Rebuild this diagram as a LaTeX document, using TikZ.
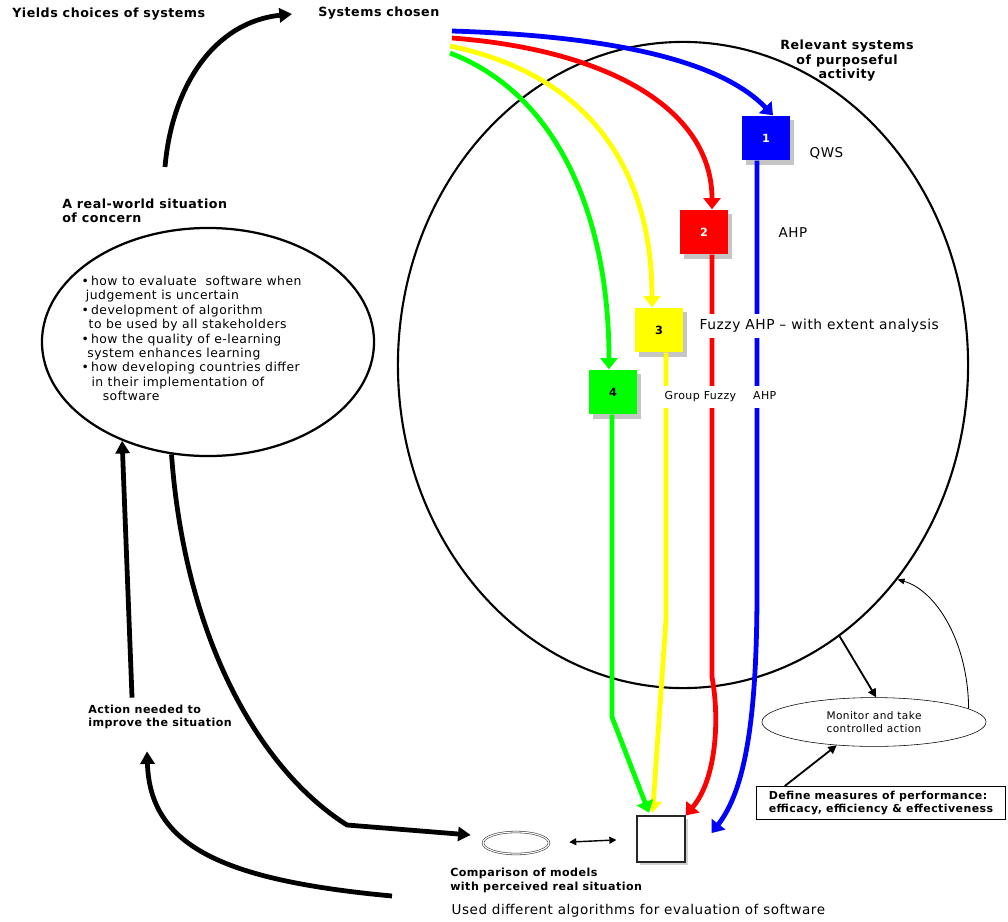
\documentclass[tikz,border=0pt]{standalone}
\usepackage{fontspec}
\setmainfont{DejaVu Sans}[LetterSpace=4]
\usetikzlibrary{arrows.meta,positioning,calc,shapes.geometric,shadows}
\definecolor{qblue}{HTML}{0000FF}
\definecolor{qred}{HTML}{FF0000}
\definecolor{qyellow}{HTML}{FFFF00}
\definecolor{qgreen}{HTML}{00FF00}
\tikzset{lbl/.style={font=\bfseries\fontsize{9}{10.3}\selectfont,align=left,inner sep=0pt}, txt/.style={font=\fontsize{9.6}{11}\selectfont,inner sep=1pt}, sysbox/.style={minimum width=1.2cm,minimum height=1.12cm,inner sep=0pt,font=\bfseries\fontsize{8}{9}\selectfont,drop shadow={shadow xshift=3pt,shadow yshift=-3pt,fill=black!45}}, colflow/.style={line width=3.4pt,-{Triangle[length=8pt,width=12pt]}}, bigflow/.style={line width=3.4pt,-{Triangle[length=9pt,width=10pt]}}, midflow/.style={line width=1.3pt,-{Triangle[length=6pt,width=6pt]}}, thinflow/.style={line width=0.6pt,-{Triangle[length=5pt,width=4pt]}}, gapfill/.style={fill=white,inner ysep=4pt}}

\begin{document}
\begin{tikzpicture}[x=0.025cm,y=-0.025cm]
\useasboundingbox (0,0) rectangle (1008,922);
\node[draw,line width=1.6pt,ellipse,minimum width=8.3cm,minimum height=5.7cm] (concern) at (208,342) {};
\node[draw,line width=1.5pt,ellipse,minimum width=14.25cm,minimum height=16.15cm] (rel) at (683,365) {};
\node[lbl,anchor=west] (yields) at (12,14) {Yields choices of systems};
\node[lbl,anchor=west] (chosen) at (318,13) {Systems chosen};
\node[lbl,anchor=west] (situation) at (62,211) {A real-world situation\\of concern};
\node[lbl,align=center] (relevant) at (847,61) {Relevant systems\\of purposeful\\activity};
\node[txt,anchor=north west,align=left,font=\fontsize{8.8}{10.3}\selectfont] (issues) at (80,274) {\textbullet\,how to evaluate\ \ software when\\\hspace*{3pt}judgement is uncertain\\\textbullet\,development of algorithm\\\hspace*{5pt}to be used by all stakeholders\\\textbullet\,how the quality of e-learning\\\hspace*{4pt}system enhances learning\\\textbullet\,how developing countries differ\\\hspace*{7pt}in their implementation of\\\hspace*{15pt}software};
\node[lbl,anchor=west,font=\bfseries\fontsize{7.9}{9.5}\selectfont] (action) at (88,717) {Action needed to\\improve the situation};
\node[sysbox,fill=qblue,text=white] (b1) at (766,138) {1};
\node[sysbox,fill=qred,text=white] (b2) at (704,232) {2};
\node[sysbox,fill=qyellow] (b3) at (659,330) {3};
\node[sysbox,fill=qgreen] (b4) at (613,392) {4};
\node[draw=black!85,line width=0.9pt,fill=white,minimum width=1.2cm,minimum height=1.15cm,drop shadow={shadow xshift=2pt,shadow yshift=-2pt,fill=black!35}] (doc) at (661,839) {};
\node[draw=black!80,double=white,double distance=0.8pt,ellipse,minimum width=1.65cm,minimum height=0.55cm] (comp) at (516,843) {};
\coordinate (sb) at (452,31);
\coordinate (sr) at (452,38);
\coordinate (sy) at (450,46);
\coordinate (sg) at (450,53);
\draw[colflow,draw=qblue] (sb) .. controls (610,36) and (720,60) .. ($(b1.north)+(7,0)$);
\draw[colflow,draw=qred] (sr) .. controls (610,50) and (712,110) .. ($(b2.north)+(8,0)$);
\draw[colflow,draw=qyellow] (sy) .. controls (590,75) and (652,170) .. ($(b3.north)+(-7,0)$);
\draw[colflow,draw=qgreen] (sg) .. controls (560,95) and (609,220) .. ($(b4.north)+(-4,0)$);
\draw[colflow,draw=qblue] ($(b1.south)+(-9,0)$) -- (757,590) .. controls (757,720) and (745,790) .. ($(doc.east)+(26,-6)$);
\draw[colflow,draw=qred] ($(b2.south)+(8,0)$) -- (712,677) .. controls (720,720) and (716,780) .. (doc.north east);
\draw[colflow,draw=qyellow,shorten >=2pt] ($(b3.south)+(7,0)$) -- (666,620) -- (doc.110);
\draw[colflow,draw=qgreen,shorten >=2pt] ($(b4.south)+(-1,0)$) -- (612,717) -- (doc.115);
\node[txt,anchor=west] (qws) at (808,153) {QWS};
\node[txt,anchor=west] (ahp) at (777,233) {AHP};
\node[txt,anchor=west,gapfill,font=\fontsize{9.8}{11}\selectfont] (fahp) at (698,326) {Fuzzy AHP – with extent analysis};
\node[txt,anchor=west,gapfill,font=\fontsize{7.8}{9}\selectfont] (gfahp) at (663,397) {Group Fuzzy\hspace{12pt}AHP};
\coordinate (yfoot) at (165,167);
\draw[bigflow] (yfoot) .. controls (172,85) and (215,22) .. ($(chosen.west)+(-26,1)$);
\draw[bigflow] (concern.252) .. controls (185,640) and (260,770) .. (347,825) -- ($(comp.west)+(-12,-8)$);
\draw[bigflow] ($(action.north)+(-28,-7)$) -- (concern.229);
\coordinate (afoot) at (392,896);
\draw[bigflow] (afoot) .. controls (220,880) and (150,845) .. ($(action.south)+(-13,22)$);
\draw[line width=1pt,{Triangle[length=5pt,width=5pt]}-{Triangle[length=5pt,width=5pt]},shorten <=0.5cm,shorten >=0.5cm] (comp.east) -- (doc.west);
\node[draw,thin,ellipse,minimum width=5.6cm,minimum height=1.22cm,align=center,font=\fontsize{7.5}{9.5}\selectfont] (monitor) at (874,722) {Monitor and take\\controlled action};
\node[draw,line width=0.8pt,minimum width=6.22cm,minimum height=0.82cm,align=left,font=\bfseries\fontsize{7.8}{9}\selectfont] (measures) at (881,803) {Define measures of performance:\\efficacy, efficiency \& effectiveness};
\draw[midflow] (rel.300) -- (monitor.85);
\draw[thinflow] (monitor.8) .. controls (968,640) and (935,590) .. (rel.315);
\draw[midflow] (measures.170) -- (monitor.212);
\node[lbl,anchor=north west,font=\bfseries\fontsize{7.9}{9.5}\selectfont] (comptext) at (450,868) {Comparison of models\\with perceived real situation};
\node[txt,anchor=west] (used) at (450,911) {Used different algorithms for evaluation of software};
\end{tikzpicture}
\end{document}
